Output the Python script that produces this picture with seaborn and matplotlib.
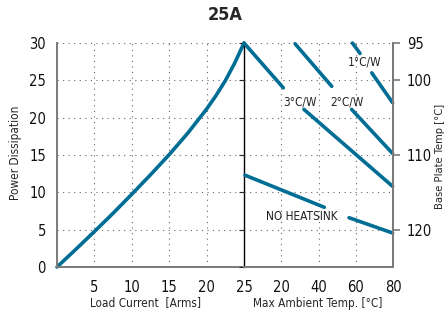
import matplotlib
matplotlib.use("Agg")
import matplotlib.pyplot as plt
import seaborn as sns

# left half: power dissipation vs load current
current = [0, 2.5, 5, 7.5, 10, 12.5, 15, 17.5, 20, 21.25, 22.5, 23.75, 25]
power = [0, 2.35, 4.75, 7.2, 9.75, 12.35, 15.05, 17.95, 21.15, 22.95, 24.95,
         27.3, 30]

# right half: derating lines vs max ambient temp, each split where a label sits
temp_3cw = [[0, 21.1], [32.2, 79.8]]
pwr_3cw = [[30, 24.0], [21.1, 10.8]]
temp_2cw = [[27.4, 47.1], [57.8, 79.8]]
pwr_2cw = [[29.9, 24.2], [21.1, 15.2]]
temp_1cw = [[58.2, 62.3], [68.6, 79.8]]
pwr_1cw = [[30.0, 28.6], [26.0, 22.0]]
temp_nohs = [[0.5, 43.1], [56.4, 79.8]]
pwr_nohs = [[12.3, 8.0], [6.6, 4.55]]

labels = ["3°C/W", "2°C/W", "1°C/W", "NO HEATSINK"]
label_temp = [29.8, 55.3, 64.7, 31.1]
label_pwr = [22.1, 22.1, 27.4, 6.8]

left_ticks = [5, 10, 15, 20, 25]
right_ticks = [20, 40, 60, 80]
y_ticks = [0, 5, 10, 15, 20, 25, 30]
base_ticks = [95, 100, 110, 120]

sns.set_style("white")
plt.rcParams["font.family"] = ["Liberation Sans Narrow", "DejaVu Sans"]
plt.rcParams["font.stretch"] = "condensed"

blue = "#006d94"
grey = "#7a7a7a"

fig = plt.figure(figsize=(4.47, 3.18), dpi=100)
ax1 = fig.add_axes([57 / 447, 51 / 318, 187 / 447, 224 / 318])
ax2 = fig.add_axes([244 / 447, 51 / 318, 149 / 447, 224 / 318], sharey=ax1)
ax2.patch.set_visible(False)

sns.lineplot(x=current, y=power, ax=ax1, color=blue, linewidth=2.6,
             estimator=None, sort=False, clip_on=False)

for temps, pwrs in [(temp_3cw, pwr_3cw), (temp_2cw, pwr_2cw),
                    (temp_1cw, pwr_1cw), (temp_nohs, pwr_nohs)]:
    for t, p in zip(temps, pwrs):
        sns.lineplot(x=t, y=p, ax=ax2, color=blue, linewidth=2.6,
                     estimator=None, sort=False, clip_on=False)

for txt, t, p in zip(labels, label_temp, label_pwr):
    ax2.text(t, p, txt, ha="center", va="center", fontsize=8.5, color="#222222")

ax1.set_xlim(0, 25)
ax2.set_xlim(0, 80)
ax1.set_ylim(0, 30)

dots = dict(color="#666666", linestyle=(0, (1, 4)), linewidth=0.8)
for y in y_ticks[1:]:
    ax1.axhline(y, **dots, zorder=0)
    ax2.axhline(y, **dots, zorder=0)
for x in left_ticks[:-1]:
    ax1.axvline(x, **dots, zorder=0)
for x in right_ticks[:-1]:
    ax2.axvline(x, **dots, zorder=0)

ax1.set_xticks(left_ticks)
ax1.set_yticks(y_ticks)
ax2.set_xticks(right_ticks)
ax1.tick_params(axis="both", length=0, labelsize=10.5, colors="#111111")
ax1.tick_params(axis="y", pad=8)
ax1.tick_params(axis="x", pad=9)
ax2.tick_params(axis="x", length=0, labelsize=10.5, pad=9, colors="#111111")
ax2.tick_params(axis="y", left=False, labelleft=False)

for ax in (ax1, ax2):
    ax.spines["top"].set_visible(False)
    for s in ax.spines.values():
        s.set_color(grey)
        s.set_linewidth(1.4)
    ax.set_xlabel("")
    ax.set_ylabel("")
ax1.spines["right"].set_color("black")
ax1.spines["right"].set_linewidth(1.0)
ax1.spines["right"].set_zorder(3)
ax2.spines["left"].set_visible(False)

ax3 = ax2.twinx()
ax3.patch.set_visible(False)
ax3.set_ylim(125, 95)
ax3.set_yticks(base_ticks)
ax3.tick_params(axis="y", direction="out", length=5, width=1.2, color=grey,
                labelsize=10.5, pad=5, labelcolor="#111111")
for s in ax3.spines.values():
    s.set_visible(False)
ax3.spines["right"].set_visible(True)
ax3.spines["right"].set_color(grey)
ax3.spines["right"].set_linewidth(1.4)

fig.text(225 / 447, 1 - 15 / 318, "25A", ha="center", va="center",
         fontsize=13, fontweight="bold")
fig.text(145 / 447, 1 - 303 / 318, "Load Current  [Arms]", ha="center",
         va="center", fontsize=8.5)
fig.text(318 / 447, 1 - 303 / 318, "Max Ambient Temp. [°C]", ha="center",
         va="center", fontsize=8.5)
fig.text(16 / 447, 1 - 153 / 318, "Power Dissipation", ha="center",
         va="center", rotation=90, fontsize=8.5)
fig.text(440 / 447, 1 - 156 / 318, "Base Plate Temp [°C]", ha="center",
         va="center", rotation=90, fontsize=8)

fig.savefig("out.png", dpi=100)
